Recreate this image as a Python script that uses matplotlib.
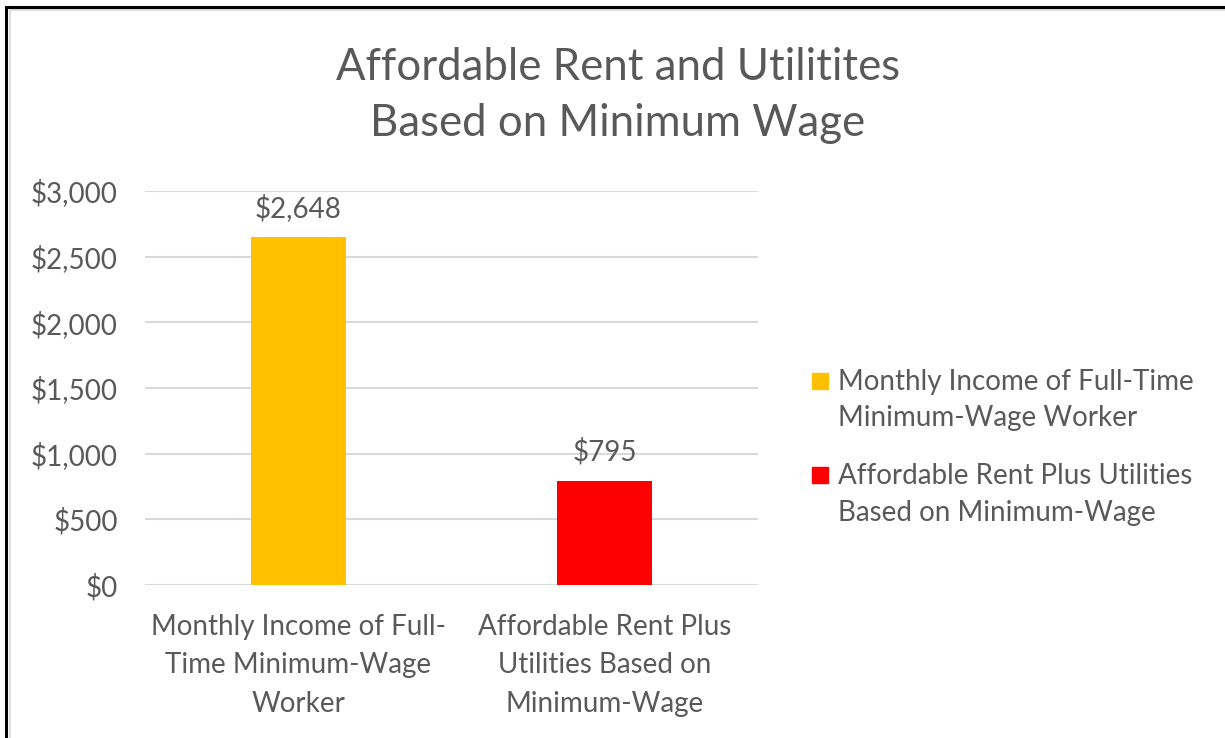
import numpy as np
import matplotlib.pyplot as plt
from matplotlib.patches import Rectangle

plt.rcParams['font.family'] = ['Lato', 'DejaVu Sans']

# data
categories = ["Monthly Income of Full-\nTime Minimum-Wage\nWorker",
              "Affordable Rent Plus\nUtilities Based on\nMinimum-Wage"]
legend_labels = ["Monthly Income of Full-Time\nMinimum-Wage Worker",
                 "Affordable Rent Plus Utilities\nBased on Minimum-Wage"]
values = [2648, 795]
bar_colors = ["#FFC000", "#FF0000"]
y_ticks = [0, 500, 1000, 1500, 2000, 2500, 3000]

text_color = "#595959"
W, H = 1225, 738

fig = plt.figure(figsize=(12.25, 7.38), dpi=100)
ax = fig.add_axes([0.1184, 0.2073, 0.5004, 0.5339])

x = np.arange(len(values))
bars = ax.bar(x, values, width=0.31, color=bar_colors, zorder=3)

ax.set_xlim(-0.5, 1.5)
ax.set_ylim(0, 3000)
ax.set_yticks(y_ticks)
ax.set_yticklabels([f"${v:,}" for v in y_ticks])
ax.set_xticks(x)
ax.set_xticklabels(categories, linespacing=1.58)

ax.grid(axis='y', color='#D9D9D9', linewidth=1.5, zorder=0)
for s in ax.spines.values():
    s.set_visible(False)
ax.tick_params(length=0, labelsize=20, colors=text_color)
ax.tick_params(axis='y', pad=19.5)
ax.tick_params(axis='x', pad=21)

# value labels
for b, v in zip(bars, values):
    ax.annotate(f"${v:,}", (b.get_x() + b.get_width() / 2, v),
                xytext=(0, 11), textcoords='offset points',
                ha='center', va='bottom', fontsize=20, color=text_color)

fig.text(0.5045, 1 - 95.5 / H, "Affordable Rent and Utilitites\nBased on Minimum Wage",
         ha='center', va='center', fontsize=31.5, color=text_color, linespacing=1.47)

# legend, marker beside the first line of each entry
leg_text_y = [400, 494.5]
leg_mark_y = [381, 475]
for lab, col, ty, my in zip(legend_labels, bar_colors, leg_text_y, leg_mark_y):
    fig.patches.append(Rectangle((812 / W, 1 - (my + 8) / H), 16 / W, 16 / H,
                                 transform=fig.transFigure, color=col))
    fig.text(838 / W, 1 - ty / H, lab, ha='left', va='center', fontsize=20,
             color=text_color, linespacing=1.51)

# chart border
fig.patches.append(Rectangle((6 / W, -0.01), 1.0, 1 - 7 / H + 0.01,
                             transform=fig.transFigure, fill=False,
                             edgecolor='black', linewidth=2.2, zorder=10))
fig.patches.append(Rectangle((10 / W, -0.01), 1.0, 1 - 10 / H + 0.01,
                             transform=fig.transFigure, fill=False,
                             edgecolor='#D9D9D9', linewidth=1.2, zorder=9))

fig.savefig("out.png", dpi=100)
